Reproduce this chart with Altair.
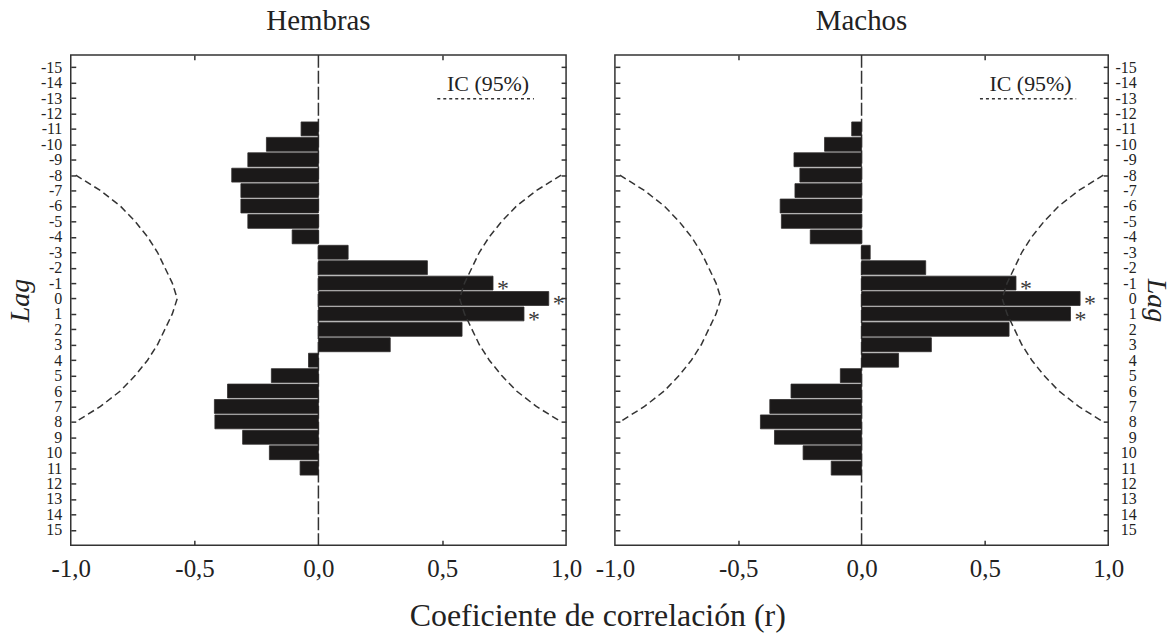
import altair as alt
import pandas as pd

SERIF = "Liberation Serif"
INK = "#222222"
LINE = "#333333"

# Cross-correlation coefficients by lag
lags = list(range(-11, 12))
hembras_r = [-0.07, -0.21, -0.285, -0.35, -0.313, -0.313, -0.285, -0.106,
             0.12, 0.44, 0.705, 0.93, 0.83, 0.58, 0.29, -0.04,
             -0.19, -0.367, -0.42, -0.418, -0.306, -0.198, -0.074]
machos_r = [-0.04, -0.15, -0.274, -0.25, -0.27, -0.33, -0.325, -0.208,
            0.035, 0.26, 0.626, 0.886, 0.847, 0.598, 0.283, 0.15,
            -0.086, -0.286, -0.372, -0.41, -0.353, -0.237, -0.123]
significant_lags = [-1, 0, 1]

# 95% confidence limits (absolute value) by lag
ci_lags = list(range(-8, 9))
ci_r = [0.98, 0.88, 0.80, 0.74, 0.69, 0.65, 0.62, 0.59, 0.57,
        0.59, 0.62, 0.65, 0.69, 0.74, 0.80, 0.88, 0.98]

tick_lags = list(range(-15, 16))
x_ticks = [-1.0, -0.5, 0.0, 0.5, 1.0]

# legend key: label and dotted sample line (data coordinates)
legend_label = "IC (95%)"
legend_label_pos = (0.685, -13.9)
legend_line_pos = (0.48, 0.87, -12.95)

H = 492
X_DOM = [-1, 1]
Y_DOM = [-15.8, 16.0]

x_label_expr = "replace(replace(format(datum.value, '.1f'), '.', ','), '\u2212', '-')"


def tick_axis(orient, offset, values):
    return alt.Axis(orient=orient, offset=offset, values=values, labels=False,
                    ticks=True, tickSize=5, tickWidth=1.5, tickColor=LINE,
                    domain=False, grid=False, title=None)


def panel(title, values, width, side):
    xs = alt.Scale(domain=X_DOM, nice=False, zero=False)
    ys = alt.Scale(domain=Y_DOM, nice=False, zero=False, reverse=True)

    bars_df = pd.DataFrame({"lag": lags, "r": values})
    ast_df = bars_df[bars_df["lag"].isin(significant_lags)]
    ci_df = pd.DataFrame({
        "lag": ci_lags * 2,
        "r": [-v for v in ci_r] + ci_r,
        "side": ["neg"] * len(ci_r) + ["pos"] * len(ci_r),
    })

    zero = alt.Chart(pd.DataFrame({"r": [0.0]})).mark_rule(
        color=LINE, strokeWidth=1.5, strokeDash=[13, 3]
    ).encode(x=alt.X("r:Q", scale=xs, axis=None))

    x_lab_axis = alt.Axis(orient="bottom", values=x_ticks, labelExpr=x_label_expr,
                          ticks=False, domain=False, grid=False, title=None,
                          labelFont=SERIF, labelFontSize=25, labelColor=INK,
                          labelPadding=11, labelFlush=False, labelOverlap=False)
    y_lab_axis = alt.Axis(orient=side, values=tick_lags, labelExpr="'' + datum.value",
                          ticks=False, domain=False, grid=False, title="Lag",
                          titleFont=SERIF, titleFontStyle="italic", titleFontWeight="normal",
                          titleFontSize=28, titleColor=INK,
                          titlePadding=6 if side == "left" else 5,
                          labelFont=SERIF, labelFontSize=16, labelColor=INK,
                          labelAlign="right", labelBaseline="middle",
                          labelPadding=9 if side == "left" else 28,
                          labelOverlap=False, labelFlush=False)

    bars = alt.Chart(bars_df).transform_calculate(
        lo="datum.lag - 0.45", hi="datum.lag + 0.45"
    ).mark_bar(color="#1b1919", stroke="#2e2c2c", strokeWidth=0.8).encode(
        x=alt.X("r:Q", scale=xs, axis=x_lab_axis),
        x2=alt.X2(datum=0),
        y=alt.Y("lo:Q", scale=ys, axis=y_lab_axis),
        y2="hi:Q",
    )

    ci = alt.Chart(ci_df).mark_line(color=LINE, strokeWidth=1.5, strokeDash=[7, 4]).encode(
        x=alt.X("r:Q", scale=xs, axis=tick_axis("top", -H, [-0.5, 0.5])),
        y=alt.Y("lag:Q", scale=ys, axis=tick_axis("right", -width, tick_lags)),
        detail="side:N",
        order="lag:Q",
    )

    stars = alt.Chart(ast_df).mark_text(
        text="*", align="left", baseline="middle", dx=4, dy=6,
        font=SERIF, fontSize=24, color="#3a3a3a"
    ).encode(
        x=alt.X("r:Q", scale=xs, axis=tick_axis("bottom", -H, [-0.5, 0.5])),
        y=alt.Y("lag:Q", scale=ys, axis=tick_axis("left", -width, tick_lags)),
    )

    key_line = alt.Chart(pd.DataFrame({
        "r": [legend_line_pos[0]], "r2": [legend_line_pos[1]], "lag": [legend_line_pos[2]]
    })).mark_rule(color=LINE, strokeWidth=1.5, strokeDash=[3, 3]).encode(
        x=alt.X("r:Q", scale=xs, axis=None),
        x2="r2:Q",
        y=alt.Y("lag:Q", scale=ys, axis=None),
    )

    key_text = alt.Chart(pd.DataFrame({
        "r": [legend_label_pos[0]], "lag": [legend_label_pos[1]], "t": [legend_label]
    })).mark_text(font=SERIF, fontSize=22, color=INK, baseline="middle").encode(
        x=alt.X("r:Q", scale=xs, axis=None),
        y=alt.Y("lag:Q", scale=ys, axis=None),
        text="t:N",
    )

    return alt.layer(zero, bars, ci, stars, key_line, key_text).resolve_axis(
        x="independent", y="independent"
    ).properties(
        width=width, height=H,
        title=alt.TitleParams(title, font=SERIF, fontSize=29, fontWeight="normal",
                              color=INK, anchor="middle", offset=18),
    )


left = panel("Hembras", hembras_r, 497, "left")
right = panel("Machos", machos_r, 495, "right")

chart = alt.hconcat(left, right, spacing=11).properties(
    title=alt.TitleParams("Coeficiente de correlación (r)", orient="bottom",
                          anchor="middle", font=SERIF, fontSize=32, dx=10,
                          fontWeight="normal", color=INK, offset=19),
    padding={"left": 5, "top": 5, "right": 4, "bottom": 0},
).configure_view(stroke=LINE, strokeWidth=1.5)

chart.save("out.html", embed_options={"renderer": "svg", "actions": False})
